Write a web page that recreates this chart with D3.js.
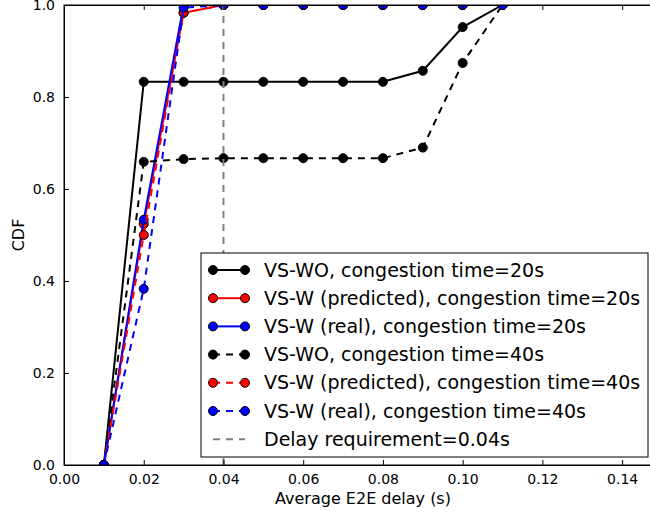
<!DOCTYPE html>
<html>
<head>
<meta charset="utf-8">
<script src="https://cdn.jsdelivr.net/npm/d3@7"></script>
<style>
  body { margin: 0; background: #fff; }
  svg { display: block; font-family: "DejaVu Sans", sans-serif; }
</style>
</head>
<body>
<svg id="canvas"></svg>
<script>
const delays = [0.01, 0.02, 0.03, 0.04, 0.05, 0.06, 0.07, 0.08, 0.09, 0.10, 0.11]

const woCdf20 = [0, 0.833, 0.833, 0.833, 0.833, 0.833, 0.833, 0.833, 0.857, 0.952, 1.0]
const predCdf20 = [0, 0.524, 0.983, 1, 1, 1, 1, 1, 1, 1, 1]
const realCdf20 = [0, 0.533, 1, 1, 1, 1, 1, 1, 1, 1, 1]
const woCdf40 = [0, 0.659, 0.665, 0.667, 0.667, 0.667, 0.667, 0.667, 0.69, 0.874, 1.0]
const predCdf40 = [0, 0.5, 0.983, 1, 1, 1, 1, 1, 1, 1, 1]
const realCdf40 = [0, 0.383, 0.994, 1, 1, 1, 1, 1, 1, 1, 1]

const delayReq = 0.04

const xTicks = [0, 0.02, 0.04, 0.06, 0.08, 0.10, 0.12, 0.14]
const yTicks = [0, 0.2, 0.4, 0.6, 0.8, 1.0]

const seriesList = [
  { name: "VS-WO, congestion time=20s", values: woCdf20, color: "black", dashed: false },
  { name: "VS-W (predicted), congestion time=20s", values: predCdf20, color: "red", dashed: false },
  { name: "VS-W (real), congestion time=20s", values: realCdf20, color: "blue", dashed: false },
  { name: "VS-WO, congestion time=40s", values: woCdf40, color: "black", dashed: true },
  { name: "VS-W (predicted), congestion time=40s", values: predCdf40, color: "red", dashed: true },
  { name: "VS-W (real), congestion time=40s", values: realCdf40, color: "blue", dashed: true }
]

const width = 650
const height = 516
const padLeft = 64
const padTop = 5
const plotW = 598
const plotH = 460
const dash = "7,6"

const canvas = d3.select("#canvas").attr("width", width).attr("height", height)

const xScale = d3.scaleLinear().domain([0, 0.15]).range([padLeft, padLeft + plotW])
const yScale = d3.scaleLinear().domain([0, 1]).range([padTop + plotH, padTop])

canvas.append("clipPath").attr("id", "clip")
  .append("rect")
  .attr("x", padLeft).attr("y", padTop)
  .attr("width", plotW).attr("height", plotH)

const plot = canvas.append("g").attr("clip-path", "url(#clip)")

const line = d3.line()
  .x((d, i) => xScale(delays[i]))
  .y(d => yScale(d))

seriesList.forEach(s => {
  const g = plot.append("g")
  g.append("path")
    .attr("d", line(s.values))
    .attr("fill", "none")
    .attr("stroke", s.color)
    .attr("stroke-width", 2)
    .attr("stroke-dasharray", s.dashed ? dash : null)
  g.selectAll("circle")
    .data(s.values)
    .enter()
    .append("circle")
    .attr("cx", (d, i) => xScale(delays[i]))
    .attr("cy", d => yScale(d))
    .attr("r", 4.5)
    .attr("fill", s.color)
    .attr("stroke", "black")
    .attr("stroke-width", 1)
})

// delay requirement line
plot.append("line")
  .attr("x1", xScale(delayReq)).attr("x2", xScale(delayReq))
  .attr("y1", yScale(0)).attr("y2", yScale(1))
  .attr("stroke", "gray")
  .attr("stroke-width", 2)
  .attr("stroke-dasharray", dash)

// axes, matplotlib classic style: inward ticks on all sides
const xAxis = d3.axisBottom(xScale).tickValues(xTicks).tickFormat(d3.format(".2f"))
  .tickSizeInner(-5).tickSizeOuter(0).tickPadding(9)
const yAxis = d3.axisLeft(yScale).tickValues(yTicks).tickFormat(d3.format(".1f"))
  .tickSizeInner(-5).tickSizeOuter(0).tickPadding(9)
const xTop = d3.axisTop(xScale).tickValues(xTicks).tickFormat("").tickSizeInner(-5).tickSizeOuter(0)

canvas.append("g")
  .attr("transform", "translate(0," + (padTop + plotH) + ")")
  .call(xAxis)
canvas.append("g")
  .attr("transform", "translate(" + padLeft + ",0)")
  .call(yAxis)
canvas.append("g")
  .attr("transform", "translate(0," + padTop + ")")
  .call(xTop)

canvas.selectAll(".tick text").attr("font-size", 14).attr("font-family", "DejaVu Sans").attr("fill", "black")
canvas.selectAll(".domain").attr("stroke", "black").attr("stroke-width", 1)

canvas.append("rect")
  .attr("x", padLeft).attr("y", padTop)
  .attr("width", plotW).attr("height", plotH)
  .attr("fill", "none").attr("stroke", "black").attr("stroke-width", 1)

canvas.append("text")
  .attr("x", padLeft + plotW / 2).attr("y", 504)
  .attr("text-anchor", "middle")
  .attr("font-size", 16)
  .text("Average E2E delay (s)")

canvas.append("text")
  .attr("transform", "translate(24," + (padTop + plotH / 2) + ") rotate(-90)")
  .attr("text-anchor", "middle")
  .attr("font-size", 16)
  .text("CDF")

// legend
const legend = canvas.append("g").attr("transform", "translate(201,253)")
legend.append("rect")
  .attr("width", 447).attr("height", 204)
  .attr("fill", "white").attr("stroke", "black").attr("stroke-width", 1)

const legendItems = seriesList.concat([{ name: "Delay requirement=0.04s", color: "gray", dashed: true, noMarker: true }])

legendItems.forEach((s, i) => {
  const y = 17 + i * 28.2
  const row = legend.append("g").attr("transform", "translate(0," + y + ")")
  row.append("line")
    .attr("x1", 12).attr("x2", 44)
    .attr("stroke", s.color).attr("stroke-width", 2)
    .attr("stroke-dasharray", s.dashed ? dash : null)
  if (!s.noMarker) {
    row.selectAll("circle").data([12, 44]).enter().append("circle")
      .attr("cx", d => d).attr("cy", 0).attr("r", 4.5)
      .attr("fill", s.color).attr("stroke", "black").attr("stroke-width", 1)
  }
  row.append("text")
    .attr("x", 63).attr("y", 0).attr("dy", "0.35em")
    .attr("font-size", 19)
    .text(s.name)
})
</script>
</body>
</html>
